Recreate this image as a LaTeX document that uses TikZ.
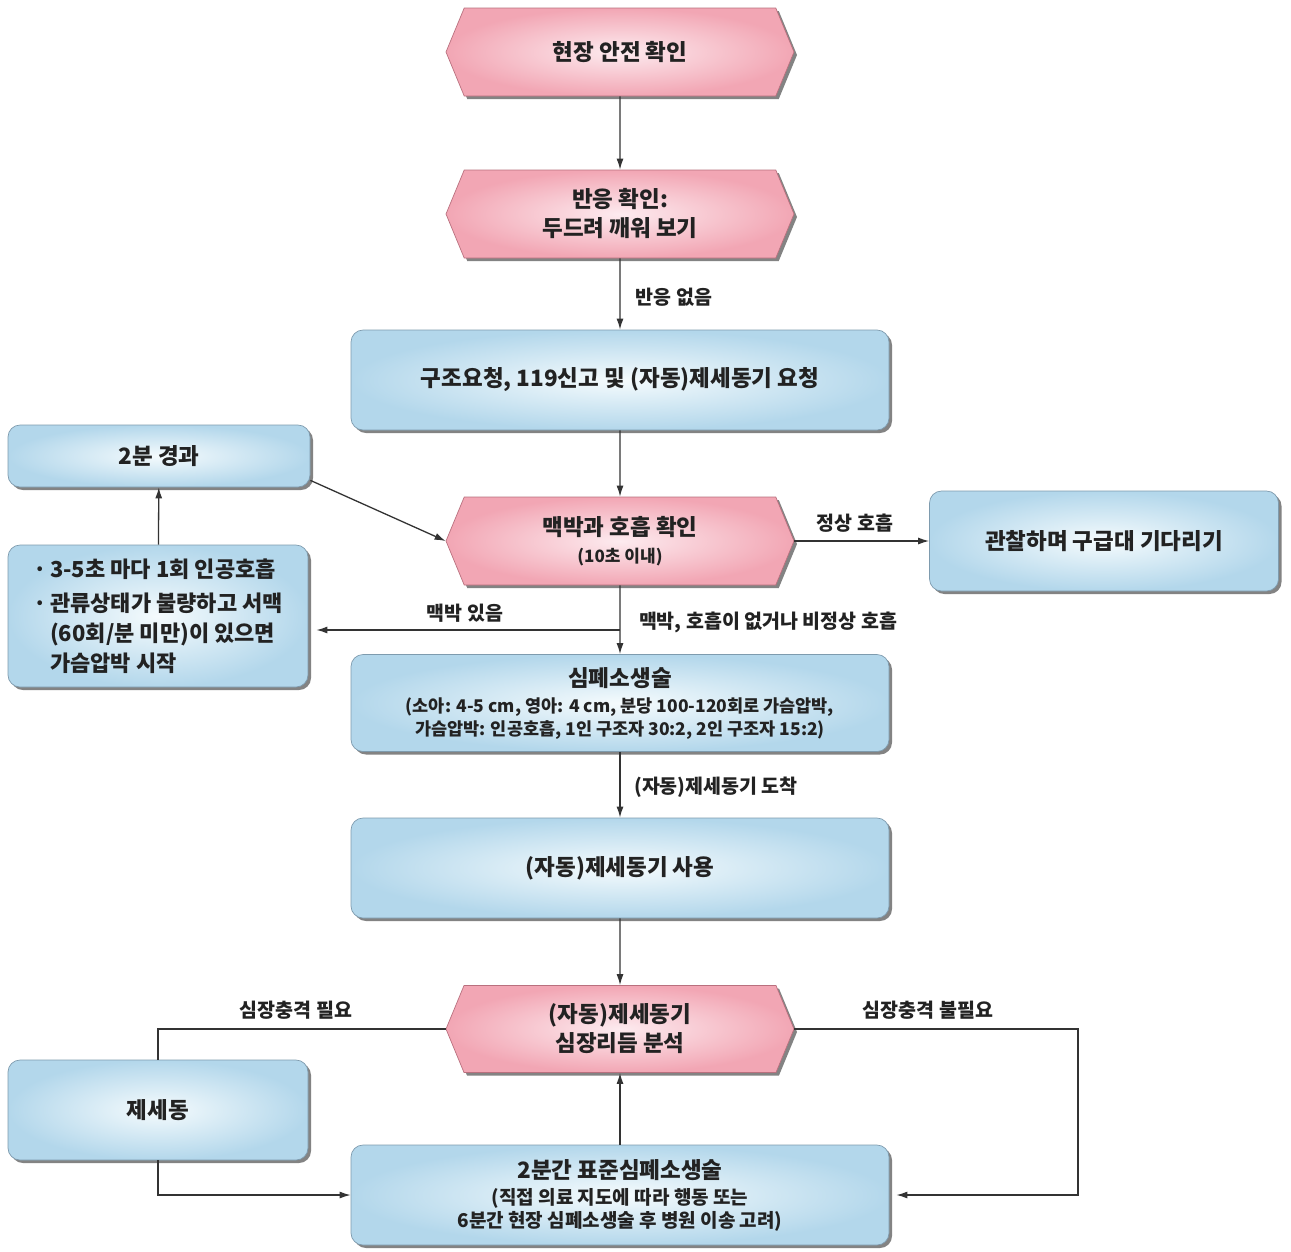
\documentclass[tikz,border=0pt]{standalone}
\usepackage{fontspec}
\setmainfont{Noto Sans CJK KR}
\usetikzlibrary{shapes.symbols,shadows,arrows.meta}

\definecolor{hexin}{HTML}{FDEBEF}
\definecolor{hexout}{HTML}{F2A6B4}
\definecolor{hexline}{HTML}{B9707E}
\definecolor{boxin}{HTML}{F5FBFD}
\definecolor{boxout}{HTML}{B3D7EB}
\definecolor{boxline}{HTML}{7E9BAE}
\definecolor{ink}{HTML}{222222}

\newcommand\subtxt[2][18]{{\fontsize{#1}{22}\selectfont\bfseries #2}}

\begin{document}
\begin{tikzpicture}[x=1pt,y=-1pt,
  every node/.style={text=ink},
  big/.style={font=\fontsize{22.5}{29}\selectfont\bfseries},
  small/.style={font=\fontsize{19.5}{23}\selectfont\bfseries},
  shadowed/.style={drop shadow={shadow xshift=3pt,shadow yshift=-3pt,fill=black!75,opacity=.65}},
  hexbox/.style={signal, signal to=west and east, signal pointer angle=135,
    draw=hexline, line width=.7pt, inner color=hexin, outer color=hexout,
    minimum width=348pt, minimum height=88pt, inner sep=0pt, align=center, big, shadowed},
  flowbox/.style={rectangle, rounded corners=12pt, draw=boxline, line width=.7pt,
    inner color=boxin, outer color=boxout, align=center, big, shadowed},
  lbl/.style={small},
  link/.style={line width=1.3pt, draw=black!80},
  arr/.style={link, -{Latex[length=11pt,width=7pt]}}
]
\useasboundingbox (0,0) rectangle (1291,1251);

% main column
\node[hexbox] (h1) at (620,52) {현장 안전 확인};
\node[hexbox] (h2) at (620,214) {반응 확인:\\두드려 깨워 보기};
\node[flowbox, minimum width=538pt, minimum height=100pt] (b3) at (620,380)
  {구조요청, 119신고 및 (자동)제세동기 요청};
\node[hexbox] (h4) at (620,541)
  {맥박과 호흡 확인\\[-2pt]\subtxt[17]{(10초 이내)}};
\node[flowbox, minimum width=538pt, minimum height=97pt] (b5) at (620,703)
  {심폐소생술\\[-3pt]\subtxt[17.5]{(소아: 4-5 cm, 영아: 4 cm, 분당 100-120회로 가슴압박,}\\[-6pt]\subtxt[17.5]{가슴압박: 인공호흡, 1인 구조자 30:2, 2인 구조자 15:2)}};
\node[flowbox, minimum width=538pt, minimum height=100pt] (b6) at (620,868)
  {(자동)제세동기 사용};
\node[hexbox, minimum height=87pt] (h7) at (620,1029) {(자동)제세동기\\심장리듬 분석};
\node[flowbox, minimum width=538pt, minimum height=100pt] (b8) at (620,1195)
  {2분간 표준심폐소생술\\[-3pt]\subtxt[19]{(직접 의료 지도에 따라 행동 또는}\\[-6pt]\subtxt[19]{6분간 현장 심폐소생술 후 병원 이송 고려)}};

% side boxes
\node[flowbox, minimum width=349pt, minimum height=100pt] (bR) at (1104,541)
  {관찰하며 구급대 기다리기};
\node[flowbox, minimum width=302pt, minimum height=62pt] (b2m) at (159,456) {2분 경과};
\node[flowbox, minimum width=300pt, minimum height=142pt, align=left,
  font=\fontsize{22}{30}\selectfont\bfseries] (bL) at (158,616)
  {·\,3-5초 마다 1회 인공호흡\\[4pt]
   ·\,관류상태가 불량하고 서맥\\
   \phantom{·\,}(60회/분 미만)이 있으면\\
   \phantom{·\,}가슴압박 시작};
\node[flowbox, minimum width=300pt, minimum height=100pt] (bD) at (158,1110) {제세동};

% junctions
\coordinate (j1) at (620,630);
\coordinate (rt) at (1078,1029);

% connectors
\draw[arr] (h1) -- (h2);
\draw[arr] (h2) -- (b3);
\draw[arr] (b3) -- (h4);
\draw[arr] (h4.east) -- (h4.east -| bR.west);
\draw[arr] ([yshift=7pt]b2m.south east) -- (h4.west);
\draw[arr] (bL) -- (b2m);
\draw[arr] (h4) -- (b5);
\draw[arr, shorten >=8pt] (j1) -- (j1 -| bL.east);
\draw[arr] (b5) -- (b6);
\draw[arr] (b6) -- (h7);
\draw[link] (h7.west) -| (bD.north);
\draw[arr] (bD.south) |- (b8.west);
\draw[arr, shorten >=7pt] (h7.east) -- (rt) |- (b8.east);
\draw[arr] (b8) -- (h7);

% connector labels
\node[lbl] (l1) at (674,297) {반응 없음};
\node[lbl] (l2) at (855,523) {정상 호흡};
\node[lbl] (l3) at (465,613) {맥박 있음};
\node[lbl] (l4) at (768,622) {맥박, 호흡이 없거나 비정상 호흡};
\node[lbl] (l5) at (716,787) {(자동)제세동기 도착};
\node[lbl] (l6) at (296,1010) {심장충격 필요};
\node[lbl] (l7) at (928,1010) {심장충격 불필요};
\end{tikzpicture}
\end{document}
